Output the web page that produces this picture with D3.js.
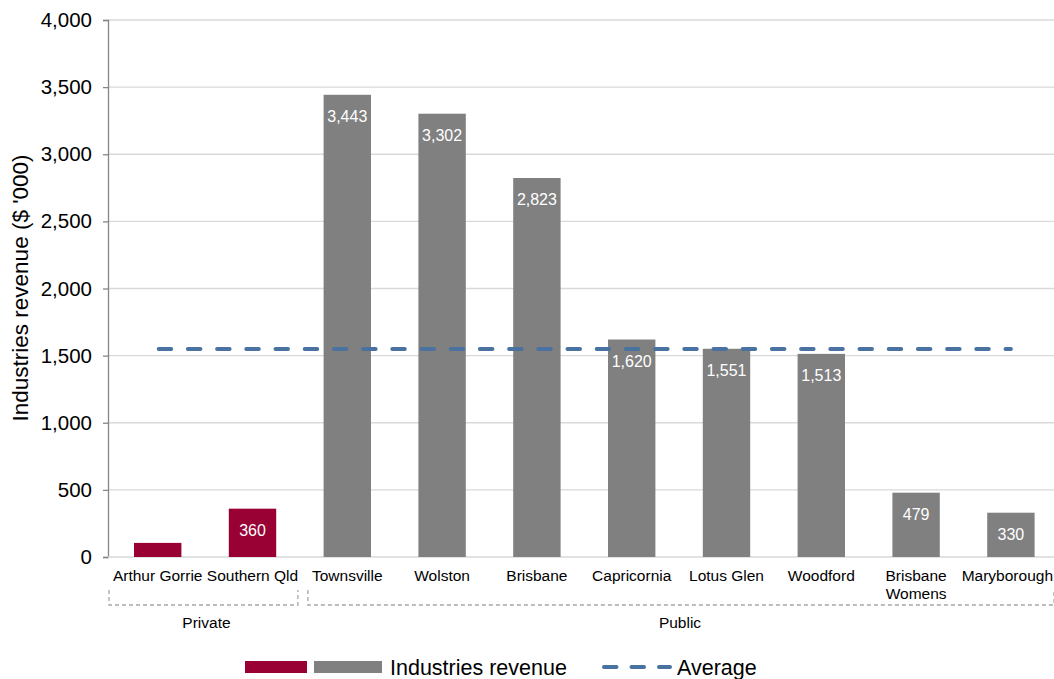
<!DOCTYPE html>
<html><head><meta charset="utf-8">
<script src="https://cdn.jsdelivr.net/npm/d3@7"></script>
<style>body{margin:0;background:#fff;} svg{display:block;font-family:"Liberation Sans",Arial,sans-serif;}</style>
</head><body>
<svg id="c" width="1054" height="679"></svg>
<script>
const categories = ["Arthur Gorrie","Southern Qld","Townsville","Wolston","Brisbane","Capricornia","Lotus Glen","Woodford","Brisbane Womens","Maryborough"];
const sectors = ["Private","Private","Public","Public","Public","Public","Public","Public","Public","Public"];
const revenue = [105,360,3443,3302,2823,1620,1551,1513,479,330];
const showLabel = [false,true,true,true,true,true,true,true,true,true];
const average = [1550];
const yTicks = [0,500,1000,1500,2000,2500,3000,3500,4000];
const groups = [{name:"Private", from:0, to:1},{name:"Public", from:2, to:9}];

const svg = d3.select("#c");
const axisX = 108;
const W = 1054, H = 679;
const x = d3.scaleBand().domain(categories).range([110.3, 1058.3]).paddingInner(0.5).paddingOuter(0.25);
const y = d3.scaleLinear().domain([0,4000]).range([557, 20]);
const fmt = d3.format(",");
const colorFor = s => s === "Private" ? "#990033" : "#808080";

// gridlines
svg.append("g").selectAll("line").data(yTicks.filter(d=>d>0)).join("line")
  .attr("x1", axisX).attr("x2", W).attr("y1", d=>y(d)).attr("y2", d=>y(d))
  .attr("stroke", "#d9d9d9").attr("stroke-width", 1.3);

// y axis
const ya = svg.append("g").attr("transform", `translate(${axisX},0)`)
  .call(d3.axisLeft(y).tickValues(yTicks).tickFormat(fmt).tickSize(5).tickPadding(11));
ya.select(".domain").attr("stroke", "#868686").attr("stroke-width", 1.3);
ya.selectAll(".tick line").attr("stroke", "#868686").attr("stroke-width", 1.3);
ya.selectAll(".tick text").attr("font-size", 20.5).attr("fill", "#000").attr("font-family","Liberation Sans, Arial, sans-serif");

// x baseline
svg.append("line").attr("x1", axisX).attr("x2", W).attr("y1", y(0)).attr("y2", y(0))
  .attr("stroke", "#d9d9d9").attr("stroke-width", 1.5);

// bars
svg.append("g").selectAll("rect").data(categories).join("rect")
  .attr("x", d=>x(d)).attr("width", x.bandwidth())
  .attr("y", (d,i)=>y(revenue[i])).attr("height", (d,i)=>y(0)-y(revenue[i]))
  .attr("fill", (d,i)=>colorFor(sectors[i]));

// data labels
svg.append("g").selectAll("text").data(categories.filter((d,i)=>showLabel[i])).join("text")
  .attr("x", d=>x(d)+x.bandwidth()/2)
  .attr("y", d=>y(revenue[categories.indexOf(d)])+27)
  .attr("text-anchor","middle").attr("font-size", 16).attr("fill","#fff")
  .text(d=>fmt(revenue[categories.indexOf(d)]));

// average line
const xc0 = x(categories[0]) + x.bandwidth()/2;
const xc1 = x(categories[categories.length-1]) + x.bandwidth()/2;
svg.append("line").attr("x1", xc0+1).attr("x2", xc1).attr("y1", y(average[0])).attr("y2", y(average[0]))
  .attr("stroke", "#4a72a0").attr("stroke-width", 4).attr("stroke-linecap","round")
  .attr("stroke-dasharray","12.5,16.7");

// category labels
const last = categories[categories.length-1];
const cl = svg.append("g").selectAll("text").data(categories).join("text")
  .attr("x", d=> d === last ? W - 1 : x(d)+x.bandwidth()/2).attr("y", 581)
  .attr("text-anchor", d=> d === last ? "end" : "middle").attr("font-size", 15.5).attr("fill","#000");
cl.each(function(d){
  const t = d3.select(this);
  if (d === "Brisbane Womens") {
    t.append("tspan").attr("x", x(d)+x.bandwidth()/2).attr("dy",0).text("Brisbane");
    t.append("tspan").attr("x", x(d)+x.bandwidth()/2).attr("dy",18).text("Womens");
  } else t.text(d);
});

// group brackets
const step = x.step();
const x0r = x.range()[0];
groups.forEach(g=>{
  const gx0 = g.from === 0 ? 109 : x0r + step*g.from + 8;
  const gx1 = g.to === categories.length-1 ? W : x0r + step*(g.to+1) - 2;
  const path = d3.path();
  path.moveTo(gx0, 590); path.lineTo(gx0, 605); path.lineTo(gx1, 605); path.lineTo(gx1, 590);
  svg.append("path").attr("d", path.toString()).attr("fill","none")
    .attr("stroke","#a6a6a6").attr("stroke-width",1.3).attr("stroke-dasharray","4,3");
  svg.append("text").attr("x", g.from === 0 ? (gx0+gx1)/2 + 3 : 680).attr("y", 628).attr("text-anchor","middle")
    .attr("font-size", 15.5).attr("fill","#000").text(g.name);
});

// y title
svg.append("text").attr("transform","translate(28,288) rotate(-90)").attr("text-anchor","middle")
  .attr("font-size", 22.5).attr("fill","#000").text("Industries revenue ($ '000)");

// legend
const lg = svg.append("g");
lg.append("rect").attr("x",245).attr("y",661).attr("width",62).attr("height",12).attr("fill","#990033");
lg.append("rect").attr("x",314).attr("y",661).attr("width",68).attr("height",12).attr("fill","#808080");
lg.append("text").attr("x",390).attr("y",675).attr("font-size",21.5).attr("fill","#000").text("Industries revenue");
lg.append("line").attr("x1",604).attr("x2",670).attr("y1",667).attr("y2",667)
  .attr("stroke","#4a72a0").attr("stroke-width",4).attr("stroke-linecap","round").attr("stroke-dasharray","12.5,15");
lg.append("text").attr("x",677).attr("y",675).attr("font-size",21.5).attr("fill","#000").text("Average");
</script>
</body></html>
